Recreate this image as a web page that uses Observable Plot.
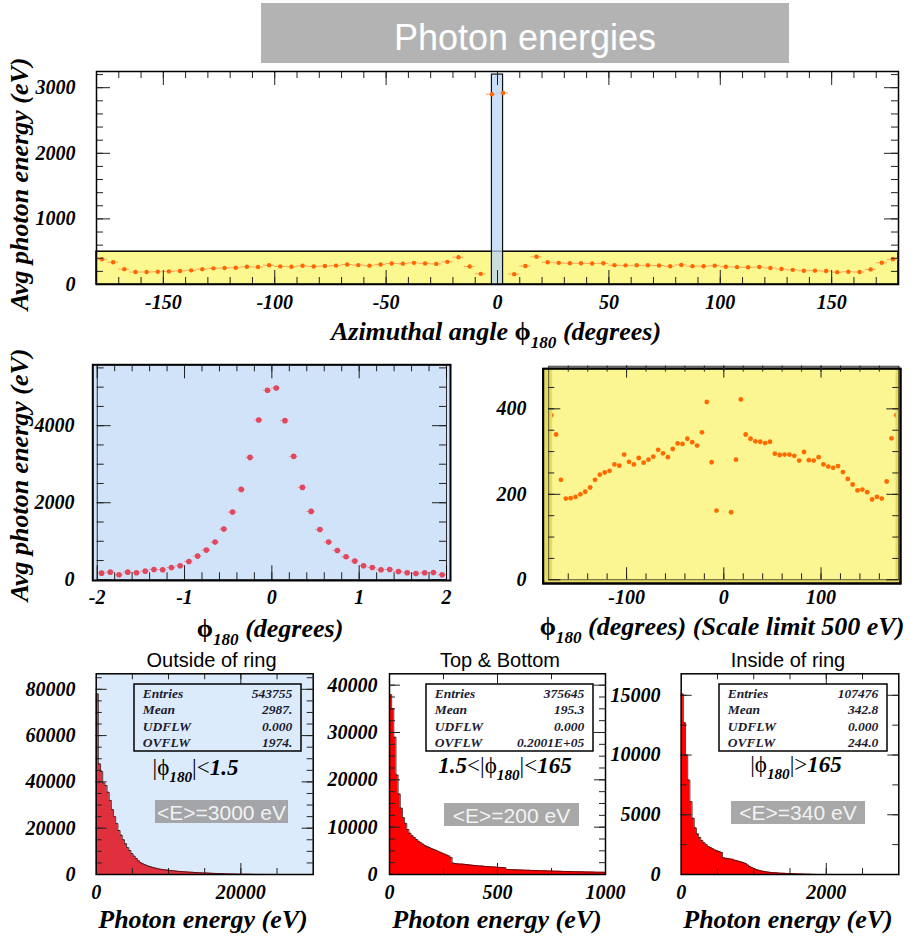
<!DOCTYPE html>
<html><head><meta charset="utf-8">
<script src="https://cdn.jsdelivr.net/npm/d3@7"></script>
<script src="https://cdn.jsdelivr.net/npm/@observablehq/plot@0.6"></script>
<style>
body{margin:0;background:#fff;}
#root{position:relative;width:914px;height:937px;overflow:hidden;}
</style></head><body><div id="root"></div>
<script>
// ---------------- DATA ----------------
const phiCoarse = [-177.5,-172.5,-167.5,-162.5,-157.5,-152.5,-147.5,-142.5,-137.5,-132.5,-127.5,-122.5,-117.5,-112.5,-107.5,-102.5,-97.5,-92.5,-87.5,-82.5,-77.5,-72.5,-67.5,-62.5,-57.5,-52.5,-47.5,-42.5,-37.5,-32.5,-27.5,-22.5,-17.5,-12.5,-7.5,-2.5,2.5,7.5,12.5,17.5,22.5,27.5,32.5,37.5,42.5,47.5,52.5,57.5,62.5,67.5,72.5,77.5,82.5,87.5,92.5,97.5,102.5,107.5,112.5,117.5,122.5,127.5,132.5,137.5,142.5,147.5,152.5,157.5,162.5,167.5,172.5,177.5];
const avgECoarse = [385,340,234,190,191,194,200,206,216,234,246,251,255,270,267,293,276,270,285,274,281,288,304,296,287,306,319,318,330,322,314,345,416,275,162,2900,2920,158,281,422,340,330,324,323,320,323,295,292,293,293,290,279,299,280,279,287,270,265,262,266,252,236,223,209,211,205,188,194,190,230,331,385];
const phiCoarseHalfWidth = 2.5;

const phiFine = [-1.95,-1.85,-1.75,-1.65,-1.55,-1.45,-1.35,-1.25,-1.15,-1.05,-0.95,-0.85,-0.75,-0.65,-0.55,-0.45,-0.35,-0.25,-0.15,-0.05,0.05,0.15,0.25,0.35,0.45,0.55,0.65,0.75,0.85,0.95,1.05,1.15,1.25,1.35,1.45,1.55,1.65,1.75,1.85,1.95];
const avgEFine = [173,199,130,199,182,225,268,260,320,364,476,615,771,978,1316,1758,2346,3177,4147,4918,4978,4130,3203,2398,1775,1307,978,762,597,485,364,320,260,268,216,182,165,182,190,130];
const phiFineHalfWidth = 0.05;

// regions highlighted on the overview: the 500 eV scale limit and the |phi|<2.5 column
const scaleLimitBand = {x1: -180, x2: 180, y1: 0, y2: 500};
const centralBand = {x1: -2.5, x2: 2.5, y1: 0, y2: 3200};

// photon energy spectra
const outsideBinWidth = 300;
const outsideCounts = [78000,47800,44500,39500,38500,35500,32000,28000,25000,22000,
  19000,17000,15000,13300,11600,10400,9000,7900,6900,5900,
  5100,4600,4200,3800,3500,3200,2950,2700,2500,2300,
  2150,2000,1900,1800,1700,1600,1500,1400,1320,1250,
  1180,1110,1050,990,930,870,820,770,720,680,
  640,600,560,520,480,440,400,360,320,290,
  260,230,200,180,160,140,120,100,90,80,
  70,60,50,45,40,35,30,25,20,15];
const topBottomBinWidth = 10;
const topBottomCounts = [38000,35000,29000,21000,17000,14000,12000,10800,9500,8700,
  8200,7800,7400,7000,6700,6400,6100,5900,5700,5500,
  5300,5100,4900,4700,4500,4300,4100,3900,3600,2400,
  2300,2250,2200,2200,2150,2100,2050,2000,1950,1900,
  1850,1800,1800,1750,1700,1700,1650,1600,1600,1550,
  1500,1500,1450,1400,1050,1040,1020,1000,990,970,
  950,940,920,900,890,870,860,840,820,810,
  800,780,770,750,740,720,710,700,680,670,
  660,650,640,620,610,600,590,580,570,560,
  550,540,530,520,510,500,490,480,470,460];
const insideBinWidth = 30;
const insideCounts = [15100,12700,10000,7900,6100,4700,3900,3400,3100,2850,
  2650,2500,2350,2250,2150,2050,1980,1920,1850,1400,
  1360,1330,1300,1270,1200,1150,1100,1050,1000,930,
  800,680,580,500,420,360,310,270,240,210,
  190,170,150,140,125,115,105,95,90,85,
  75,65,55,45,40,35,30,25,20,15,10,8];

const statLabels = ["Entries","Mean","UDFLW","OVFLW"];
const statsOutside = ["543755","2987.","0.000","1974."];
const statsTopBottom = ["375645","195.3","0.000","0.2001E+05"];
const statsInside = ["107476","342.8","0.000","244.0"];
const meanLabels = ["<E>=3000 eV","<E>=200 eV","<E>=340 eV"];
const panelTitles = ["Outside of ring","Top & Bottom","Inside of ring"];
const mainTitle = "Photon energies";
const yTitle = "Avg photon energy (eV)";
const energyTitle = "Photon energy (eV)";

const topXTicks = [-150,-100,-50,0,50,100,150], topYTicks = [0,1000,2000,3000];
const fineXTicks = [-2,-1,0,1,2], fineYTicks = [0,2000,4000];
const scaledXTicks = [-100,0,100], scaledYTicks = [0,200,400];
const outsideXTicks = [0,20000], outsideYTicks = [0,20000,40000,60000,80000];
const tbXTicks = [0,500,1000], tbYTicks = [0,10000,20000,30000,40000];
const insideXTicks = [0,2000], insideYTicks = [0,5000,10000,15000];

// ---------------- HELPERS ----------------
const root = document.getElementById("root");
const SERIF = '"Liberation Serif","DejaVu Serif",serif';
const SANS = '"Liberation Sans",Arial,sans-serif';

function place(svg, left, top) {
  const d = document.createElement("div");
  d.style.cssText = `position:absolute;left:${left}px;top:${top}px;`;
  d.appendChild(svg);
  root.appendChild(d);
}

function tickMarks(fw, fh, g) {
  const s = {stroke: "#222", strokeWidth: 1};
  return [
    Plot.tickX(g.xMin, {x: d => d, insetTop: fh - g.min, ...s}),
    Plot.tickX(g.xMin, {x: d => d, insetBottom: fh - g.min, ...s}),
    Plot.tickX(g.xMaj, {x: d => d, insetTop: fh - g.maj, ...s}),
    Plot.tickX(g.xMaj, {x: d => d, insetBottom: fh - g.maj, ...s}),
    Plot.tickY(g.yMin, {y: d => d, insetRight: fw - g.min, ...s}),
    Plot.tickY(g.yMin, {y: d => d, insetLeft: fw - g.min, ...s}),
    Plot.tickY(g.yMaj, {y: d => d, insetRight: fw - g.maj, ...s}),
    Plot.tickY(g.yMaj, {y: d => d, insetLeft: fw - g.maj, ...s})
  ];
}

function panel(c) {
  const fw = c.width - c.ml - c.mr, fh = c.height - c.mt - c.mb;
  const svg = Plot.plot({
    width: c.width, height: c.height,
    marginLeft: c.ml, marginRight: c.mr, marginTop: c.mt, marginBottom: c.mb,
    x: {domain: c.xDomain}, y: {domain: c.yDomain},
    style: {fontFamily: SERIF, fontSize: "20px", fontWeight: "bold", fontStyle: "italic",
            background: "transparent", overflow: "visible", color: "#000"},
    marks: [
      ...c.marks,
      ...(c.after ? c.after(fw, fh) : []),
      ...tickMarks(fw, fh, c.ticks),
      Plot.axisX(c.xTicks, {anchor: "bottom", tickSize: 0, tickPadding: c.xPad, tickFormat: d => String(d), label: null}),
      Plot.axisY(c.yTicks, {anchor: "left", tickSize: 0, tickPadding: c.yPad, tickFormat: d => String(d), label: null}),
      Plot.frame({stroke: "#000", strokeWidth: c.frameWidth ?? 1.5})
    ]
  });
  place(svg, c.left, c.top);
}

function histMarks(counts, binW, fill) {
  const pts = counts.map((v, i) => ({x: i * binW, y: v}));
  pts.push({x: counts.length * binW, y: counts[counts.length - 1]});
  return [
    Plot.areaY(pts, {x: "x", y: "y", curve: "step-after", fill}),
    Plot.line(pts, {x: "x", y: "y", curve: "step-after", stroke: "#3a0a0a", strokeWidth: 0.8})
  ];
}

const coarse = phiCoarse.map((p, i) => ({phi: p, v: avgECoarse[i]}));
const fine = phiFine.map((p, i) => ({phi: p, v: avgEFine[i]}));
const inCentral = d => d.phi > centralBand.x1 && d.phi < centralBand.x2;

// ---------------- TOP OVERVIEW ----------------
panel({
  left: 0, top: 60, width: 914, height: 260, ml: 96, mr: 16, mt: 11, mb: 36,
  xDomain: [-180, 180], yDomain: [0, 3247],
  xTicks: topXTicks, yTicks: topYTicks, xPad: 10, yPad: 21,
  ticks: {xMaj: topXTicks, xMin: d3.range(-170, 180, 10), yMaj: topYTicks, yMin: d3.range(200, 3247, 200), maj: 14, min: 7},
  marks: [
    Plot.rect([scaleLimitBand], {x1: "x1", x2: "x2", y1: "y1", y2: "y2", fill: "#fcf890", stroke: "#000", strokeWidth: 1.5}),
    Plot.ruleY(coarse, {x1: d => d.phi - phiCoarseHalfWidth, x2: d => d.phi + phiCoarseHalfWidth, y: "v", stroke: d => inCentral(d) ? "#f08a90" : "#ffa060", strokeWidth: 1}),
    Plot.rect([centralBand], {x1: "x1", x2: "x2", y1: "y1", y2: "y2", fill: "#b9d5f4", fillOpacity: 0.75, stroke: "#111", strokeWidth: 1.2}),
    Plot.dot(coarse.filter(d => !inCentral(d)), {x: "phi", y: "v", r: 2.2, fill: "#ff6600"}),
    Plot.dot(coarse.filter(inCentral), {x: "phi", y: "v", r: 2.4, fill: "#e8101e"})
  ]
});

// ---------------- MIDDLE LEFT (zoom |phi|<2) ----------------
panel({
  left: 0, top: 350, width: 460, height: 300, ml: 96.7, mr: 14, mt: 14.3, mb: 70.7,
  xDomain: [-2, 2], yDomain: [0, 5580],
  xTicks: fineXTicks, yTicks: fineYTicks, xPad: 9.5, yPad: 22.7,
  ticks: {xMaj: fineXTicks, xMin: d3.range(-1.8, 1.9, 0.2), yMaj: fineYTicks, yMin: d3.range(500, 5580, 500), maj: 14, min: 7},
  frameWidth: 0.8,
  marks: [
    Plot.frame({fill: "#d0e3f9", stroke: "#000", strokeWidth: 2, insetLeft: -4.4, insetRight: -4, insetBottom: -0.7}),
    Plot.ruleY(fine, {x1: d => d.phi - phiFineHalfWidth, x2: d => d.phi + phiFineHalfWidth, y: "v", stroke: "#e890a0", strokeWidth: 1}),
    Plot.dot(fine, {x: "phi", y: "v", r: 2.8, fill: "#e0485e"})
  ]
});

// ---------------- MIDDLE RIGHT (scale limit 500) ----------------
panel({
  left: 460, top: 350, width: 454, height: 300, ml: 88.3, mr: 15.7, mt: 15.6, mb: 70.7,
  xDomain: [-180, 180], yDomain: [0, 500],
  xTicks: scaledXTicks, yTicks: scaledYTicks, xPad: 9.5, yPad: 22.3,
  ticks: {xMaj: scaledXTicks, xMin: d3.range(-160, 180, 20), yMaj: scaledYTicks, yMin: d3.range(50, 500, 50), maj: 12, min: 6},
  frameWidth: 0.6,
  marks: [
    Plot.frame({fill: "#9c9c9c", insetLeft: -1, insetRight: -1.5, insetBottom: 210}),
    Plot.frame({fill: "#e4da66", stroke: "#000", strokeWidth: 2, insetLeft: -5.6, insetRight: -1.7, insetTop: 2.7, insetBottom: -3.7}),
    Plot.frame({fill: "#fbf691", insetTop: 2.7}),
    Plot.dot(coarse.filter(d => d.v <= 500), {x: "phi", y: "v", r: 2.4, fill: "#ff6a00"})
  ],
  // 3D pad border drawn over the plotting area edges (hides the edge bins, as in the original)
  after: (fw, fh) => [
    Plot.frame({fill: "#e4da66", insetTop: 2.7, insetLeft: -4.6, insetRight: fw - 3.4}),
    Plot.frame({fill: "#e4da66", insetTop: 2.7, insetLeft: fw - 3.2, insetRight: -0.7}),
    Plot.frame({stroke: "#000", strokeWidth: 2, fill: "none", insetLeft: -5.6, insetRight: -1.7, insetTop: 2.7, insetBottom: -3.7})
  ]
});

// ---------------- BOTTOM HISTOGRAMS ----------------
panel({
  left: 0, top: 650, width: 320, height: 287, ml: 95.7, mr: 7.3, mt: 23.3, mb: 63,
  xDomain: [0, 30000], yDomain: [0, 86700],
  xTicks: outsideXTicks, yTicks: outsideYTicks, xPad: 10, yPad: 20.7,
  ticks: {xMaj: [20000], xMin: d3.range(5000, 30000, 5000), yMaj: outsideYTicks, yMin: d3.range(5000, 86700, 5000), maj: 11, min: 6},
  marks: [Plot.frame({fill: "#dcebfb"}), ...histMarks(outsideCounts, outsideBinWidth, "#e0303e")]
});
panel({
  left: 310, top: 650, width: 310, height: 287, ml: 79, mr: 15, mt: 23.3, mb: 63,
  xDomain: [0, 1000], yDomain: [0, 42400],
  xTicks: tbXTicks, yTicks: tbYTicks, xPad: 10, yPad: 12,
  ticks: {xMaj: [500], xMin: [250, 750], yMaj: tbYTicks, yMin: d3.range(2500, 42400, 2500), maj: 11, min: 6},
  marks: [Plot.frame({fill: "#fff"}), ...histMarks(topBottomCounts, topBottomBinWidth, "#ff0000")]
});
panel({
  left: 620, top: 650, width: 294, height: 287, ml: 60.7, mr: 15.7, mt: 23.3, mb: 63,
  xDomain: [0, 3000], yDomain: [0, 16800],
  xTicks: insideXTicks, yTicks: insideYTicks, xPad: 10, yPad: 20.7,
  ticks: {xMaj: [2000], xMin: d3.range(500, 3000, 500), yMaj: insideYTicks, yMin: d3.range(2500, 16800, 2500), maj: 11, min: 6},
  marks: [Plot.frame({fill: "#fff"}), ...histMarks(insideCounts, insideBinWidth, "#ff0000")]
});

// ---------------- TEXT OVERLAY ----------------
const ov = d3.select(root).append("svg")
  .attr("width", 914).attr("height", 937)
  .style("position", "absolute").style("left", "0px").style("top", "0px")
  .style("pointer-events", "none");

function rich(x, y, segs, o) {
  const size = o.size;
  const t = ov.append("text").attr("x", x).attr("y", y)
    .attr("text-anchor", o.anchor || "middle")
    .style("font-family", o.family || SERIF).style("font-size", size + "px")
    .style("font-weight", o.weight || "bold").style("font-style", o.style || "italic")
    .attr("fill", o.fill || "#000");
  if (o.rotate != null) t.attr("transform", `rotate(${o.rotate},${x},${y})`);
  let down = false;
  for (const s of segs) {
    const ts = t.append("tspan").text(s.t);
    if (s.sub) {
      ts.attr("dy", 0.3 * size).style("font-size", (0.66 * size) + "px");
      down = true;
    } else if (down) {
      ts.attr("dy", -0.3 * size);
      down = false;
    }
    if (s.up) ts.style("font-style", "normal");
    if (s.normal) ts.style("font-weight", "normal");
  }
  return t;
}

// title bar
ov.append("rect").attr("x", 261).attr("y", 3).attr("width", 528).attr("height", 60).attr("fill", "#b3b3b3");
rich(525, 50, [{t: mainTitle}], {size: 36, family: SANS, weight: "normal", style: "normal", fill: "#fff"});

// axis titles
rich(496, 340, [{t: "Azimuthal angle "}, {t: "ϕ", up: true}, {t: "180", sub: true}, {t: " (degrees)"}], {size: 26});
rich(28, 184, [{t: yTitle}], {size: 26, rotate: -90});
rich(28, 475, [{t: yTitle}], {size: 26, rotate: -90});
rich(270, 637, [{t: "ϕ", up: true}, {t: "180", sub: true}, {t: " (degrees)"}], {size: 26});
rich(722, 635, [{t: "ϕ", up: true}, {t: "180", sub: true}, {t: " (degrees) (Scale limit 500 eV)"}], {size: 26});
[203, 497, 788].forEach(cx => rich(cx, 928, [{t: energyTitle}], {size: 26}));

// panel titles
[211.5, 500, 788].forEach((cx, i) => rich(cx, 667, [{t: panelTitles[i]}], {size: 20, family: SANS, weight: "normal", style: "normal"}));

// stats boxes
const boxes = [
  {x: 134, w: 167, fill: "#dcebfb", vals: statsOutside},
  {x: 426, w: 167, fill: "#fff", vals: statsTopBottom},
  {x: 719, w: 168, fill: "#fff", vals: statsInside}
];
boxes.forEach(b => {
  ov.append("rect").attr("x", b.x).attr("y", 684).attr("width", b.w).attr("height", 67)
    .attr("fill", b.fill).attr("stroke", "#000").attr("stroke-width", 1.5);
  statLabels.forEach((lab, j) => {
    const y = 697.5 + j * 16.5;
    rich(b.x + 8.7, y, [{t: lab}], {size: 13.5, anchor: "start", fill: "#1c1c30"});
    rich(b.x + b.w - 8.7, y, [{t: b.vals[j]}], {size: 13.5, anchor: "end", fill: "#1c1c30"});
  });
});

// region labels
rich(195.5, 775, [{t: "|ϕ", up: true, normal: true}, {t: "180", sub: true}, {t: "|<", up: true, normal: true}, {t: "1.5"}], {size: 23});
rich(505, 773, [{t: "1.5"}, {t: "<|ϕ", up: true, normal: true}, {t: "180", sub: true}, {t: "|<", up: true, normal: true}, {t: "165"}], {size: 23});
rich(796, 772, [{t: "|ϕ", up: true, normal: true}, {t: "180", sub: true}, {t: "|>", up: true, normal: true}, {t: "165"}], {size: 23});

// mean energy badges
const badges = [
  {x: 155, y: 800, w: 133, cx: 221.5, base: 819.5},
  {x: 444, y: 803, w: 135, cx: 511.5, base: 822.5},
  {x: 731, y: 801, w: 134, cx: 798, base: 820}
];
badges.forEach((b, i) => {
  ov.append("rect").attr("x", b.x).attr("y", b.y).attr("width", b.w).attr("height", 23)
    .attr("fill", "#999").attr("fill-opacity", 0.85);
  rich(b.cx, b.base, [{t: meanLabels[i]}], {size: 21, family: SANS, weight: "normal", style: "normal", fill: "#f2f2f2"});
});
</script></body></html>
